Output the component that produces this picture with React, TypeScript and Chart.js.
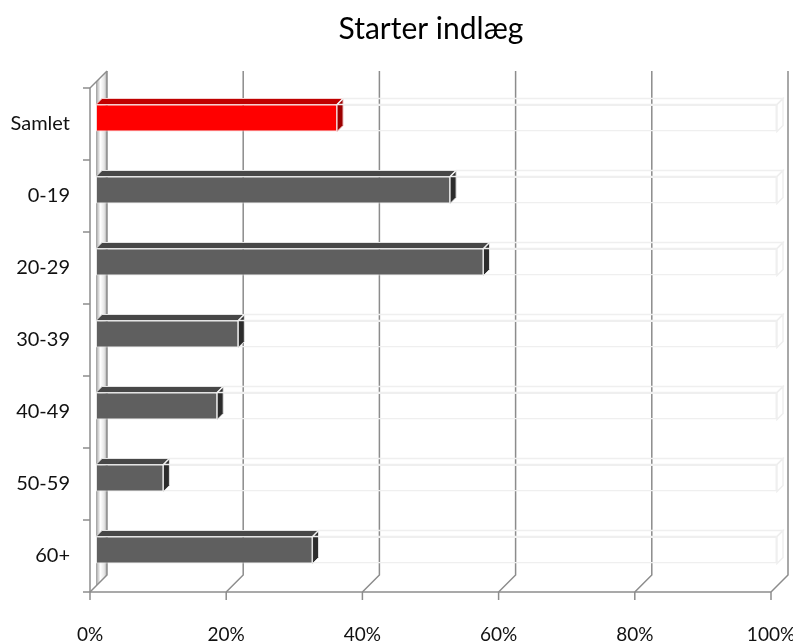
import React, { useEffect, useRef } from 'react';
import { Chart, registerables } from 'chart.js';

Chart.register(...registerables);

const chartTitle = 'Starter indlæg';
const categories = ['Samlet', '0-19', '20-29', '30-39', '40-49', '50-59', '60+'];
const values = [35.4, 52, 56.9, 20.9, 17.8, 9.9, 31.8];
const highlightIndex = 0;
const xMin = 0;
const xMax = 100;
const xStep = 20;

const FRONT = 6; // offset of bar plane from the front plane
const BACK = 11; // offset of back wall from the bar plane
const BD = 6; // bar depth

const frame3d = {
  id: 'frame3d',
  beforeDatasetsDraw(chart: any) {
    const { ctx, chartArea: a, scales } = chart;
    const x = scales.x;
    const x0 = x.getPixelForValue(xMin);
    const fx = x0 - FRONT;
    const bx = x0 + BACK;
    const ft = a.top + FRONT;
    const fb = a.bottom + FRONT;
    const bt = a.top - BACK;
    const bb = a.bottom - BACK;
    ctx.save();
    // left wall (shaded slab between bar plane and back)
    const g = ctx.createLinearGradient(x0, 0, bx, 0);
    g.addColorStop(0, '#9e9e9e');
    g.addColorStop(0.4, '#ffffff');
    g.addColorStop(0.75, '#e6e6e6');
    g.addColorStop(1, '#a8a8a8');
    ctx.beginPath();
    ctx.moveTo(x0, a.top);
    ctx.lineTo(bx, bt);
    ctx.lineTo(bx, bb);
    ctx.lineTo(x0, a.bottom);
    ctx.closePath();
    ctx.fillStyle = g;
    ctx.fill();
    ctx.strokeStyle = '#8c8c8c';
    ctx.lineWidth = 1.5;
    // top slant of wall
    ctx.beginPath();
    ctx.moveTo(fx, ft);
    ctx.lineTo(bx, bt);
    ctx.stroke();
    // back gridlines with floor slants and front ticks
    x.ticks.forEach((t: any) => {
      const px = x.getPixelForValue(t.value);
      ctx.beginPath();
      ctx.moveTo(px + BACK, bt);
      ctx.lineTo(px + BACK, bb);
      ctx.lineTo(px - FRONT, fb);
      ctx.stroke();
      ctx.beginPath();
      ctx.moveTo(px - FRONT, fb);
      ctx.lineTo(px - FRONT, fb + 8);
      ctx.stroke();
    });
    // floor front line
    ctx.beginPath();
    ctx.moveTo(fx - 7, fb);
    ctx.lineTo(x.getPixelForValue(xMax) - FRONT, fb);
    ctx.stroke();
    // front y axis line and category ticks
    ctx.beginPath();
    ctx.moveTo(fx, ft);
    ctx.lineTo(fx, fb);
    ctx.stroke();
    const n = categories.length;
    const band = (a.bottom - a.top) / n;
    for (let k = 0; k < n; k++) {
      const yy = a.top + k * band + FRONT;
      ctx.beginPath();
      ctx.moveTo(fx - 7, yy);
      ctx.lineTo(fx, yy);
      ctx.stroke();
    }
    ctx.restore();
  },
  afterDatasetsDraw(chart: any) {
    const { ctx } = chart;
    ctx.save();
    chart.data.datasets.forEach((ds: any, di: number) => {
      const meta = chart.getDatasetMeta(di);
      meta.data.forEach((el: any, i: number) => {
        const p = el.getProps(['x', 'y', 'base', 'height'], true);
        const top = p.y - p.height / 2;
        const bot = p.y + p.height / 2;
        const l = Math.min(p.base, p.x);
        const r = Math.max(p.base, p.x);
        const topFace = () => {
          ctx.beginPath();
          ctx.moveTo(l, top);
          ctx.lineTo(l + BD, top - BD);
          ctx.lineTo(r + BD, top - BD);
          ctx.lineTo(r, top);
          ctx.closePath();
        };
        const sideFace = () => {
          ctx.beginPath();
          ctx.moveTo(r, top);
          ctx.lineTo(r + BD, top - BD);
          ctx.lineTo(r + BD, bot - BD);
          ctx.lineTo(r, bot);
          ctx.closePath();
        };
        if (di === 0) {
          const hi = i === highlightIndex;
          ctx.lineWidth = 1;
          ctx.strokeStyle = hi ? '#f4d0d0' : '#e4e4e4';
          topFace();
          ctx.fillStyle = hi ? '#c00000' : '#474747';
          ctx.fill();
          ctx.stroke();
          sideFace();
          ctx.fillStyle = hi ? '#9c0000' : '#2c2c2c';
          ctx.fill();
          ctx.stroke();
        } else {
          ctx.lineWidth = 1.5;
          ctx.strokeStyle = '#efefef';
          topFace();
          ctx.stroke();
          sideFace();
          ctx.stroke();
        }
      });
    });
    ctx.restore();
  },
  afterDraw(chart: any) {
    const { ctx } = chart;
    ctx.save();
    ctx.font = '30px Lato';
    ctx.fillStyle = '#000000';
    ctx.textAlign = 'center';
    ctx.textBaseline = 'middle';
    ctx.fillText(chartTitle, 431, 29);
    ctx.restore();
  },
};

export default function App() {
  const ref = useRef<HTMLCanvasElement | null>(null);
  useEffect(() => {
    if (!ref.current) return;
    const chart = new Chart(ref.current, {
      type: 'bar',
      data: {
        labels: categories,
        datasets: [
          {
            data: values,
            backgroundColor: categories.map((_, i) => (i === highlightIndex ? '#ff0000' : '#5f5f5f')),
            borderColor: categories.map((_, i) => (i === highlightIndex ? '#f4d0d0' : '#e4e4e4')),
            borderWidth: 1,
            borderSkipped: false,
            barPercentage: 0.375,
            categoryPercentage: 1,
          },
          {
            data: values.map((v) => xMax - v),
            backgroundColor: 'rgba(0,0,0,0)',
            borderColor: '#efefef',
            borderWidth: 1.5,
            barPercentage: 0.375,
            categoryPercentage: 1,
          },
        ],
      },
      options: {
        indexAxis: 'y',
        responsive: false,
        animation: false,
        devicePixelRatio: 1,
        layout: { padding: { top: 82, right: 16, bottom: 0, left: 0 } },
        plugins: {
          legend: { display: false },
          tooltip: { enabled: false },
          title: { display: false },
        },
        scales: {
          x: {
            stacked: true,
            min: xMin,
            max: xMax,
            grid: { display: false, drawTicks: false },
            border: { display: false },
            ticks: {
              stepSize: xStep,
              padding: 37,
              labelOffset: -FRONT,
              color: '#111111',
              font: { family: 'Lato', size: 19 },
              callback: (v: any) => v + '%',
            },
            afterFit: (s: any) => {
              s.height = 57;
              s.paddingLeft = 0;
              s.paddingRight = 0;
            },
          },
          y: {
            stacked: true,
            grid: { display: false, drawTicks: false },
            border: { display: false },
            ticks: {
              padding: 26,
              labelOffset: FRONT,
              color: '#111111',
              font: { family: 'Lato', size: 20 },
            },
            afterFit: (s: any) => {
              s.width = 96;
              s.paddingTop = 0;
              s.paddingBottom = 0;
            },
          },
        },
      },
      plugins: [frame3d],
    });
    return () => chart.destroy();
  }, []);
  return (
    <div style={{ position: 'fixed', left: 0, top: 0, width: 793, height: 643, background: '#ffffff' }}>
      <canvas ref={ref} width={793} height={643} />
    </div>
  );
}
